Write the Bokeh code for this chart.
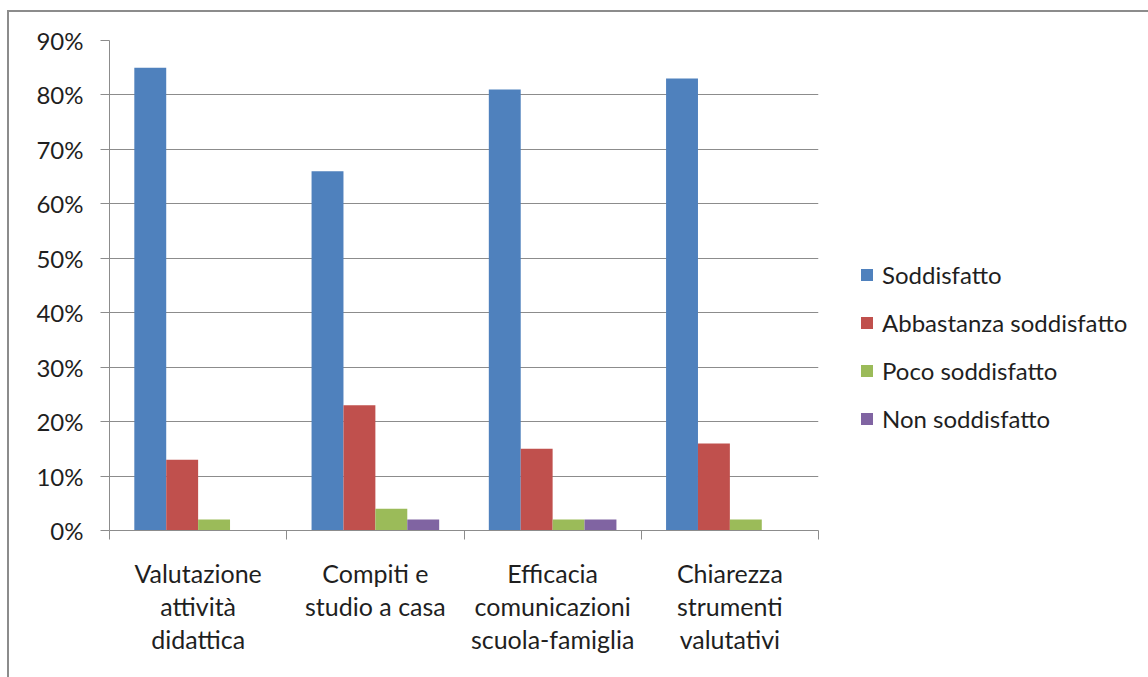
from bokeh.plotting import figure
from bokeh.models import (ColumnDataSource, FixedTicker, LinearAxis, Legend, LegendItem,
                          PrintfTickFormatter, Range1d)
from bokeh.embed import file_html
from bokeh.resources import INLINE

# Survey results: share of respondents (%) per aspect and satisfaction level
categories = [
    "Valutazione\nattività\ndidattica",
    "Compiti e\nstudio a casa",
    "Efficacia\ncomunicazioni\nscuola-famiglia",
    "Chiarezza\nstrumenti\nvalutativi",
]
series_names = ["Soddisfatto", "Abbastanza soddisfatto", "Poco soddisfatto", "Non soddisfatto"]
soddisfatto = [85, 66, 81, 83]
abbastanza = [13, 23, 15, 16]
poco = [2, 4, 2, 2]
non_soddisfatto = [0, 2, 2, 0]
y_ticks = [0, 10, 20, 30, 40, 50, 60, 70, 80, 90]

colors = ["#4F81BD", "#C0504D", "#9BBB59", "#8064A2"]
offsets = [-0.27, -0.09, 0.09, 0.27]
bar_w = 0.18
FONT = "Lato"
TXT = "#1f1f1f"
GRAY = "#8c8c8c"

p = figure(
    frame_width=709, frame_height=490,
    min_border_left=100, min_border_right=330, min_border_top=28, min_border_bottom=147,
    x_range=Range1d(0, 4), y_range=Range1d(0, 90),
    output_backend="svg", toolbar_location=None, x_axis_location=None,
)
p.styles = {"margin-left": "7px", "margin-top": "10px",
            "border-left": f"2px solid {GRAY}", "border-top": f"2px solid {GRAY}"}
p.outline_line_color = None
p.background_fill_color = "white"
p.border_fill_color = "white"

# horizontal gridlines only
p.xgrid.visible = False
p.ygrid.ticker = FixedTicker(ticks=y_ticks)
p.ygrid.grid_line_color = GRAY
p.ygrid.grid_line_width = 1

# y axis
ya = p.yaxis[0]
ya.ticker = FixedTicker(ticks=y_ticks)
ya.formatter = PrintfTickFormatter(format="%d%%")
ya.axis_line_color = GRAY
ya.major_tick_line_color = GRAY
ya.major_tick_out = 9
ya.major_tick_in = 0
ya.minor_tick_line_color = None
ya.major_label_standoff = 17
ya.major_label_text_font = FONT
ya.major_label_text_font_size = "24px"
ya.major_label_text_color = TXT

# x axis: tick marks at category boundaries
xb = LinearAxis(ticker=FixedTicker(ticks=[0, 1, 2, 3, 4]),
                major_label_overrides={i: "" for i in range(5)})
xb.axis_line_color = GRAY
xb.major_tick_line_color = GRAY
xb.major_tick_out = 9
xb.major_tick_in = 0
xb.minor_tick_line_color = None
xb.major_label_text_font_size = "1px"
xb.major_label_standoff = 0
p.add_layout(xb, "below")

# category names centred under each group
centers = [i + 0.5 for i in range(len(categories))]
xl = LinearAxis(ticker=FixedTicker(ticks=centers),
                major_label_overrides={c: name for c, name in zip(centers, categories)})
xl.axis_line_color = None
xl.major_tick_line_color = None
xl.minor_tick_line_color = None
xl.major_label_standoff = 12
xl.major_label_text_font = FONT
xl.major_label_text_font_size = "25px"
xl.major_label_text_color = TXT
xl.major_label_text_line_height = 1.1
p.add_layout(xl, "below")

values = [soddisfatto, abbastanza, poco, non_soddisfatto]
items = []
for name, vals, col, off in zip(series_names, values, colors, offsets):
    src = ColumnDataSource(dict(x=[i + 0.5 + off for i in range(len(vals))], top=vals))
    r = p.vbar(x="x", top="top", width=bar_w, bottom=0, source=src,
               fill_color=col, line_color=None)
    items.append(LegendItem(label=name, renderers=[r]))

legend = Legend(items=items, location=(41, 97))
legend.border_line_color = None
legend.background_fill_alpha = 0
legend.padding = 0
legend.margin = 0
legend.glyph_width = 15
legend.glyph_height = 15
legend.label_standoff = 8
legend.spacing = 19
legend.label_text_font = FONT
legend.label_text_font_size = "24px"
legend.label_text_color = TXT
p.add_layout(legend, "right")

open("out.html", "w").write(file_html(p, INLINE))
